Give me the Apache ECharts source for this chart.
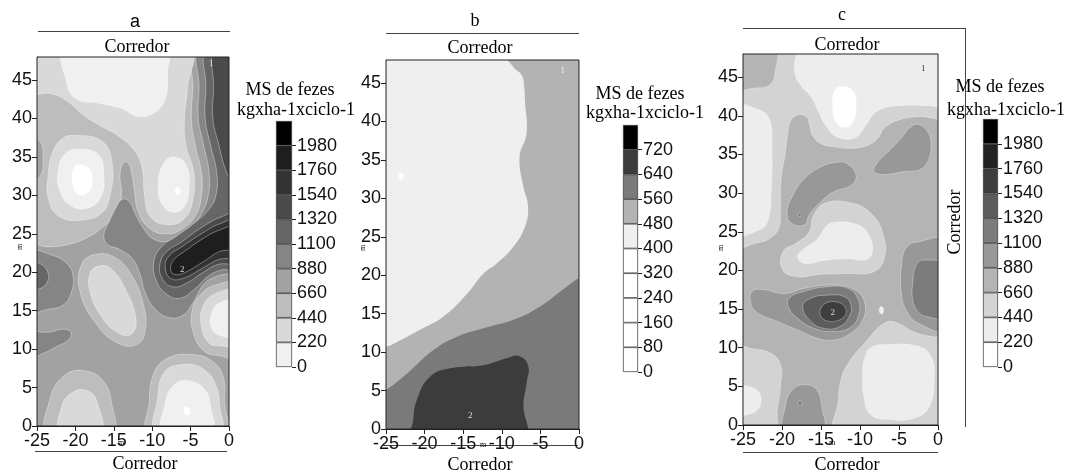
<!DOCTYPE html>
<html><head><meta charset="utf-8">
<script src="https://cdn.jsdelivr.net/npm/echarts@6/dist/echarts.min.js"></script>
<style>html,body{margin:0;padding:0;background:#fff}#c{width:1068px;height:475px}</style>
</head><body><div id="c"></div>
<script>
// ---------- data ----------
const xTicks = [-25, -20, -15, -10, -5, 0];
const yTicks = [0, 5, 10, 15, 20, 25, 30, 35, 40, 45];
const aBreaks = [0, 220, 440, 660, 880, 1100, 1320, 1540, 1760, 1980, 2200];
const bBreaks = [0, 80, 160, 240, 320, 400, 480, 560, 640, 720, 800];
const cBreaks = [0, 220, 440, 660, 880, 1100, 1320, 1540, 1760, 1980, 2200];

// contour regions: [level (kg/ha), outline in metres]; drawn in order
const aContours = [
  [440, [[-26,-1],[1,-1],[1,49],[-26,49]]],
  [660, [[-26,-1],[1,-1],[1,49],[-4.6,49],[-4.7,44],[-4.9,40],[-4.4,36.5],[-3.6,33],[-3.6,30],[-4.3,27.5],[-6,25.7],[-8,25.0],[-10.2,25.6],[-11.8,27.8],[-12.3,30.5],[-12.6,32.5],[-13.1,34.2],[-13.8,34.2],[-14.2,32.5],[-14,30.5],[-14.5,28],[-16.3,26],[-18.5,24.5],[-21,23.6],[-23.5,23.3],[-26,23.3]]],
  [660, [[-26,37.5],[-24.6,37],[-24.2,34.8],[-24.6,32.5],[-26,32]]],
  [880, [[1,49],[-3.8,49],[-3.9,44],[-4.0,40],[-3.3,36.5],[-2.6,33],[-2.7,30],[-3.6,27.6],[-5.3,25.5],[-7.8,24.1],[-9.8,24.3],[-11.2,25.8],[-12.2,27.6],[-13,29.2],[-13.9,29.5],[-14.7,28.4],[-15.6,26.6],[-16.3,24.8],[-15.8,23.6],[-14.3,23],[-12.6,21.8],[-11.6,19.8],[-10.9,17.3],[-9.6,15.2],[-7.8,14.1],[-6,14.4],[-4.6,16.2],[-3.3,18.4],[-1.8,19.4],[0,19.8],[1,19.8]]],
  [880, [[-26,22.5],[-23,22.2],[-21,21],[-20.3,19.5],[-20.5,17.5],[-21.5,15.8],[-23.5,15.2],[-26,15]]],
  [880, [[-26,8.8],[-24.5,9.3],[-22.5,10.3],[-20.8,11.3],[-20.6,12.2],[-21.5,12.6],[-23.5,12.2],[-25,12.3],[-26,12.5]]],
  [1100, [[1,49],[-2.9,49],[-3,44],[-3.1,40],[-2.4,36.5],[-1.6,33],[-1.7,30],[-2.6,28.2],[-4.4,26.5],[-6.8,24.7],[-8.8,23.3],[-9.8,21.3],[-9.5,19],[-8.3,17.3],[-6.5,16.6],[-4.5,17.8],[-2.7,19.5],[-1,20.3],[1,20.6]]],
  [1100, [[-26,21.3],[-24.4,21],[-23.5,19.7],[-23.8,18.5],[-24.8,17.8],[-26,17.7]]],
  [1320, [[1,49],[-1.9,49],[-2,44],[-2.1,40],[-1.3,36.5],[-0.5,33.5],[0.3,32],[1,31.5]]],
  [1320, [[1,27.6],[-1,27.2],[-3.6,25.8],[-6.1,24],[-8.2,22.6],[-9,21],[-8.7,19.2],[-7.3,18.1],[-5.5,18.6],[-3.5,19.9],[-1.5,21],[1,21.5]]],
  [1540, [[1,26.7],[-1.2,26.3],[-3.6,25],[-6,23.4],[-7.9,22],[-8.3,20.6],[-7.6,19.2],[-6,19.2],[-3.5,20.5],[-1.5,21.6],[1,22.3]]],
  [1760, [[1,25.9],[-1.2,25.5],[-3.5,24.3],[-5.8,22.7],[-7.2,21.6],[-7.6,20.3],[-7,19.7],[-5.7,20],[-3.3,21.4],[-1.2,22.7],[1,23.2]]],
  [440, [[-17.5,22.3],[-15,22],[-12.8,19.8],[-11.2,16],[-10.9,12.5],[-12,10.6],[-14.5,10.8],[-17.3,13.3],[-19.4,17.5],[-19.2,21]]],
  [440, [[1,18.5],[-1.5,18.4],[-3.5,17.3],[-4.8,15],[-4.6,12],[-3.3,9.8],[-1.5,9.2],[1,9.2]]],
  [440, [[-10.4,-1],[-10.4,3],[-9.8,6.8],[-8,8.8],[-5,9.3],[-2.3,8.5],[-0.8,6.5],[-0.6,3],[-0.5,-1]]],
  [440, [[-23.5,-1],[-23.3,3.5],[-21.5,6.5],[-19,7.2],[-16.5,6],[-15.3,3],[-15.3,-1]]],
  [220, [[-26,49],[-5.3,49],[-5.4,44],[-5.8,40],[-5.6,36.5],[-4.6,33],[-4.7,29.5],[-5.8,27],[-8,26.2],[-10.2,27.2],[-11,30],[-11.3,33.5],[-12.3,35.8],[-14.5,37.8],[-17,39.2],[-19,40.5],[-21,42.2],[-23,43.2],[-26,43.5]]],
  [220, [[-20,37.8],[-16.5,37],[-15.2,34],[-15.5,30],[-16.5,27.8],[-19,26.8],[-22,27.2],[-23.5,29.5],[-23.5,33],[-23,35.5],[-21.8,37.3]]],
  [220, [[-17,20.8],[-15.4,20.5],[-13.5,17.8],[-12.1,13.8],[-12.8,11.9],[-14.6,12.2],[-16.8,14.5],[-18.1,17.5],[-18.1,19.8]]],
  [220, [[1,17.4],[-1.8,17.2],[-3.4,15.5],[-3.6,13],[-2.6,10.8],[-0.8,10.4],[1,10.4]]],
  [220, [[-9.4,-1],[-9.3,3.5],[-8.4,7],[-6,8],[-3.5,7.5],[-1.8,5.5],[-1.2,2.5],[-1.2,-1]]],
  [220, [[-21.9,-1],[-21.8,2.5],[-20.5,4.3],[-18.5,4.6],[-17.2,3.2],[-16.8,-1]]],
  [0, [[-21.2,49],[-8.2,49],[-8,46],[-8.4,42.3],[-10,40.6],[-12,40.3],[-14,41.3],[-17,42],[-19.8,42.5],[-21.1,44.5]]],
  [0, [[-7.3,35],[-5.6,34],[-5.2,31],[-5.8,28.6],[-7.3,27.8],[-8.8,29],[-9.2,31.5],[-8.6,34]]],
  [0, [[-19.5,36],[-17,35.3],[-16.3,32.5],[-16.6,30],[-18,28.5],[-20.3,28.5],[-22,30.5],[-22.2,33.5],[-21.2,35.5]]],
  [0, [[1,16.2],[-1.3,16],[-2.3,14.5],[-2.3,12.8],[-1.2,11.8],[1,11.8]]],
  [0, [[-8.5,-1],[-8.3,3],[-7.2,5.3],[-5.3,5.9],[-3.2,4.8],[-2.4,2.5],[-2.3,-1]]],
  [-1, [[-19.5,34],[-18.2,33.5],[-17.8,31.5],[-18.6,30.2],[-19.8,30.3],[-20.4,32],[-20.2,33.6]]],
  [-1, [[-6.9,31],[-6.4,30.9],[-6.4,30.3],[-6.9,30.2]]],
  [-1, [[-5.8,2.4],[-5.2,2.3],[-5.1,1.6],[-5.7,1.5]]]
];

const bContours = [
  [400, [[-26,-1],[1,-1],[1,49],[-26,49]]],
  [480, [[-9.6,49],[-8.5,47.1],[-7.4,46.0],[-7.1,44.5],[-7.0,42.7],[-6.8,38.4],[-7.7,35.4],[-7.2,31.5],[-6.6,28.9],[-7.0,26.3],[-8.5,23.7],[-10.7,21.5],[-12.4,20.2],[-14.5,17.6],[-17.6,14.6],[-20.6,12.9],[-23.6,11.3],[-25,10.7],[-26,10.6],[-26,-1],[1,-1],[1,49]]],
  [560, [[-26,4.8],[-25,5.1],[-22.3,7.2],[-18.8,10.3],[-15.8,12.0],[-12.4,13.1],[-8.5,14.2],[-5.1,15.9],[-1.6,18.5],[0,19.6],[1,19.8],[1,-1],[-26,-1]]],
  [640, [[-21.6,-1],[-21.5,1],[-21,3.8],[-19.3,6.8],[-16.7,7.9],[-12.4,8.3],[-9.4,9.2],[-7.8,9.5],[-6.6,8.3],[-6.8,5.9],[-7.2,3.3],[-7.2,-1]]],
  [320, [[-23.3,33.3],[-22.8,33.2],[-22.8,32.6],[-23.3,32.5]]]
];

const cContours = [
  [660, [[-26,-1],[1,-1],[1,49],[-26,49]]],
  [440, [[-26,49],[1,49],[1,40.1],[-2.6,39.9],[-5.2,39.4],[-6.9,38.4],[-7.7,37.1],[-9,36.2],[-11.15,35.8],[-13.3,36.0],[-15,36.4],[-16.1,37.5],[-16.5,39.0],[-16.9,39.9],[-18,40.1],[-18.9,39.3],[-19.3,37.5],[-19.6,35],[-20.1,32],[-20.2,28],[-20.4,25.5],[-21.5,24.2],[-23,23.6],[-26,23.4]]],
  [660, [[-26,49],[-21,49],[-20.9,45.5],[-21.6,44],[-23.5,43.6],[-26,43.6]]],
  [220, [[-17.6,49],[-18.3,47.3],[-18.3,45.3],[-17.5,43.8],[-16.3,42.5],[-15.3,40.5],[-14.3,38.6],[-12.8,37.2],[-10.6,37.2],[-9.3,38.7],[-7.8,40.6],[-5,41.3],[-1,41.3],[1,41.3],[1,49]]],
  [0, [[-12.4,43.8],[-10.9,43.2],[-10.5,41],[-11,39],[-12,38.5],[-13.1,39.2],[-13.5,41.2],[-13.3,43.2]]],
  [220, [[-26,41],[-23,40.8],[-21.6,39.5],[-21.3,36],[-21.4,30],[-21.8,26.5],[-23,25.2],[-26,24.9]]],
  [880, [[-11.6,33.8],[-10.5,32.3],[-11.15,31.0],[-13.3,30.2],[-15.0,28.9],[-16.5,27.2],[-17.1,25.9],[-18.8,26.1],[-19.35,27.6],[-18.6,29.75],[-17.1,31.9],[-15.0,33.4],[-12.9,34.0]]],
  [1100, [[-17.9,27.4],[-17.6,27.3],[-17.6,27.0],[-17.9,27.0]]],
  [880, [[-2.6,38.9],[-1.3,37.9],[-0.9,36.2],[-1.3,34.1],[-2.4,33.0],[-4.3,32.8],[-6.9,32.4],[-8.2,32.8],[-7.9,33.8],[-6.45,35.3],[-4.74,37.1],[-3.7,38.4]]],
  [440, [[-14.5,28.7],[-11,28.7],[-8.5,27.3],[-7,24.5],[-6.9,21.5],[-8.3,19.8],[-11.5,19.6],[-15,19.5],[-18.3,19.2],[-20,20.2],[-19.8,22.5],[-18.2,23.5],[-16.5,25],[-16,27]]],
  [220, [[-13.5,26.2],[-10.6,26],[-9,24.8],[-8.4,22.5],[-9.2,21.4],[-11.6,21.5],[-14.5,21.3],[-17,20.9],[-18,21.7],[-17.2,22.8],[-15.5,24],[-14.5,25.5]]],
  [880, [[-23.8,17.3],[-22.3,17.5],[-19.7,17.0],[-17.1,17.7],[-13.3,18.1],[-10.7,17.5],[-9.4,15.8],[-9.65,13.6],[-11.15,11.9],[-13.3,11.0],[-15.4,11.2],[-18.0,12.3],[-20.6,13.4],[-23.1,14.5],[-24.0,15.8]]],
  [1100, [[-19.1,16.4],[-17.1,17.3],[-14.1,17.9],[-11.6,17.7],[-10.3,16.4],[-10.1,14.5],[-11.15,12.7],[-13.3,12.1],[-15.9,12.5],[-18.0,13.8],[-19.1,15.1]]],
  [1320, [[-17.35,15.3],[-16.3,16.4],[-14.1,16.8],[-12.0,16.6],[-11.15,15.5],[-11.4,14.0],[-12.65,12.7],[-14.6,12.5],[-16.3,13.4]]],
  [1540, [[-15.0,15.1],[-14.35,15.8],[-12.9,15.9],[-11.9,15.2],[-11.9,14.2],[-12.9,13.5],[-14.35,13.5],[-15.1,14.25]]],
  [880, [[1,23.7],[-2.6,23.7],[-4.1,22.9],[-4.7,20.5],[-4.7,17.05],[-4.1,14.9],[-2.6,13.2],[1,12.5]]],
  [1100, [[1,20.5],[-1.75,21.35],[-2.8,20.7],[-3.25,18.3],[-3.25,16.2],[-2.6,14.7],[-1.3,14.0],[1,14.0]]],
  [440, [[-13,-1],[-12.8,3],[-12.4,6],[-11.3,8.3],[-9.4,10.6],[-7,13.1],[-5.5,13.3],[-3,12],[-0.5,11.4],[1,11.3],[1,-1]]],
  [220, [[-8.6,10.0],[-6.45,10.4],[-2.6,10.2],[-0.9,8.9],[-0.5,5.85],[-1.1,2.4],[-3.03,0.9],[-6.0,0.68],[-8.6,1.33],[-9.5,3.7],[-9.65,6.7],[-9.4,8.65]]],
  [440, [[-26,10.2],[-24,9.9],[-21.5,9.3],[-20.2,7.8],[-20.2,5],[-20.6,2],[-21,-1],[-26,-1]]],
  [220, [[-26,5.1],[-24.5,5.0],[-23.2,4.5],[-22.7,3.3],[-23.1,2.0],[-24.3,1.4],[-26,1.3]]],
  [880, [[-17.1,5.2],[-15.6,4.6],[-14.9,2.4],[-14.8,-1],[-19.6,-1],[-19.5,2.8],[-18.6,4.6]]],
  [1100, [[-17.9,3.0],[-17.5,3.0],[-17.5,2.6],[-17.9,2.6]]],
  [220, [[-7.4,15.3],[-7.0,15.1],[-7.1,14.4],[-7.5,14.6]]]
];

// point labels inside the maps: [x, y, text]
const aMarks = [[-2.3, 47.1, '1'], [-6.1, 20.4, '2']];
const bMarks = [[-2.1, 46.6, '1'], [-14.1, 1.8, '2']];
const cMarks = [[-1.9, 46.1, '1'], [-13.5, 14.5, '2']];

const legendTitle = ['MS de fezes', 'kgxha-1xciclo-1'];
const panelTitles = ['a', 'b', 'c'];
const sideLabel = 'Corredor';

// ---------- styles ----------
const A_COLORS = ['#f0f0f0','#d9d9d9','#bdbdbd','#a2a2a2','#858585','#666666','#4a4a4a','#333333','#1e1e1e','#000000'];
const B_COLORS = ['#ffffff','#ffffff','#ffffff','#ffffff','#ffffff','#efefef','#b3b3b3','#7a7a7a','#3c3c3c','#000000'];
const C_COLORS = ['#ffffff','#ededed','#d3d3d3','#b4b4b4','#989898','#7c7c7c','#5c5c5c','#3e3e3e','#222222','#000000'];
const SANS = '"Liberation Sans", Arial, sans-serif';
const SERIF = '"Liberation Serif", "Times New Roman", serif';
const TICK_FONT = 18;

const plotGrids = [
  {left: 37, top: 57, width: 192, height: 369},
  {left: 386, top: 60, width: 193, height: 369},
  {left: 743, top: 54, width: 195, height: 371}
];
const barGrids = [
  {left: 276, top: 121, width: 16, height: 246},
  {left: 623, top: 125, width: 15, height: 247},
  {left: 983, top: 119, width: 15, height: 248}
];

function bandColor(level, breaks, colors) {
  if (level < breaks[0]) return '#ffffff';
  for (let i = 0; i < breaks.length - 1; i++) {
    if (level >= breaks[i] && level < breaks[i + 1]) return colors[i];
  }
  return colors[colors.length - 1];
}

const panels = [
  {contours: aContours, breaks: aBreaks, colors: A_COLORS, marks: aMarks, stroke: 'rgba(255,255,255,0.5)', markColors: ['#fff', '#fff']},
  {contours: bContours, breaks: bBreaks, colors: B_COLORS, marks: bMarks, stroke: null, markColors: ['#fff', '#fff']},
  {contours: cContours, breaks: cBreaks, colors: C_COLORS, marks: cMarks, stroke: 'rgba(255,255,255,0.45)', markColors: ['#000', '#fff']}
];

const grid = [], xAxis = [], yAxis = [], series = [];

panels.forEach((p, k) => {
  grid.push(Object.assign({show: true, borderColor: '#222', borderWidth: 1, backgroundColor: 'transparent', z: 10}, plotGrids[k]));
  xAxis.push({
    gridIndex: k, type: 'value', min: -25, max: 0, interval: 5,
    axisLine: {show: true, onZero: false, lineStyle: {color: '#222', width: 1}},
    axisTick: {show: true, length: 5, lineStyle: {color: '#222'}, customValues: xTicks},
    axisLabel: {fontSize: TICK_FONT, color: '#111', fontFamily: SANS, margin: 6, customValues: xTicks, formatter: v => String(v)},
    splitLine: {show: false}
  });
  yAxis.push({
    gridIndex: k, type: 'value', min: 0, max: 48, interval: 5,
    axisLine: {show: true, onZero: false, lineStyle: {color: '#222', width: 1}},
    axisTick: {show: true, length: 5, lineStyle: {color: '#222'}, customValues: yTicks},
    axisLabel: {fontSize: TICK_FONT, color: '#111', fontFamily: SANS, margin: 5, customValues: yTicks, formatter: v => String(v)},
    splitLine: {show: false}
  });
  const contours = p.contours;
  series.push({
    type: 'custom', xAxisIndex: k, yAxisIndex: k, z: 2, silent: true,
    data: contours.map((c, i) => [i, c[0]]),
    renderItem: (params, api) => {
      const c = contours[params.dataIndex];
      const pts = c[1].map(q => api.coord(q));
      const cs = params.coordSys;
      const isBase = params.dataIndex === 0;
      return {
        type: 'polygon',
        shape: {points: pts, smooth: isBase ? 0 : 0.45},
        style: {
          fill: bandColor(c[0], p.breaks, p.colors),
          stroke: (isBase || !p.stroke) ? null : p.stroke,
          lineWidth: 0.7
        },
        clipPath: {type: 'rect', shape: {x: cs.x, y: cs.y, width: cs.width, height: cs.height}}
      };
    }
  });
  series.push({
    type: 'scatter', xAxisIndex: k, yAxisIndex: k, z: 5, silent: true,
    symbolSize: 0,
    data: p.marks.map((m, i) => ({value: [m[0], m[1]], name: m[2], label: {color: p.markColors[i]}})),
    label: {show: true, position: 'inside', formatter: d => d.name, fontSize: 9, fontFamily: SERIF}
  });
});

// colour bars
panels.forEach((p, k) => {
  const gi = 3 + k;
  grid.push(Object.assign({show: false}, barGrids[k]));
  xAxis.push({gridIndex: gi, type: 'category', data: ['v'], show: false, boundaryGap: true});
  const labVals = p.breaks.slice(0, -1);
  yAxis.push({
    gridIndex: gi, type: 'value', position: 'right',
    min: p.breaks[0], max: p.breaks[p.breaks.length - 1], interval: p.breaks[1] - p.breaks[0],
    axisLine: {show: false},
    axisTick: {show: true, inside: false, length: 4, lineStyle: {color: '#222'}, customValues: labVals},
    axisLabel: {fontSize: TICK_FONT, color: '#111', fontFamily: SANS, margin: 5, customValues: labVals, formatter: v => String(v)},
    splitLine: {show: false}
  });
  for (let i = 0; i < p.breaks.length - 1; i++) {
    series.push({
      type: 'bar', xAxisIndex: gi, yAxisIndex: gi, stack: 'cb' + k, silent: true,
      barWidth: '100%',
      data: [p.breaks[i + 1] - p.breaks[i]],
      itemStyle: {color: p.colors[i], borderColor: '#333', borderWidth: 0.7}
    });
  }
});

// ---------- text and frame lines ----------
function txt(text, x, y, font, extra) {
  return Object.assign({
    type: 'text', x: x, y: y, silent: true,
    style: {text: text, font: font, fill: '#000', align: 'center', verticalAlign: 'middle', textAlign: 'center', textVerticalAlign: 'middle'}
  }, extra || {});
}
function ln(x1, y1, x2, y2) {
  return {type: 'line', silent: true, shape: {x1, y1, x2, y2}, style: {stroke: '#444', lineWidth: 1}};
}
const graphic = [
  txt(panelTitles[0], 135, 22, '18px ' + SANS),
  txt(panelTitles[1], 475, 21, '18px ' + SERIF),
  txt(panelTitles[2], 842, 15, '18px ' + SERIF),
  ln(38, 31.5, 230, 31.5), ln(35, 451.5, 227, 451.5),
  ln(386, 33.5, 579, 33.5), ln(383, 445.5, 578, 445.5),
  ln(743, 28.5, 965, 28.5), ln(965.5, 28, 965.5, 427), ln(743, 452.5, 938, 452.5),
  txt(sideLabel, 137, 47, '18px ' + SERIF), txt(sideLabel, 145, 464, '18px ' + SERIF),
  txt(sideLabel, 480, 48, '18px ' + SERIF), txt(sideLabel, 480, 465, '18px ' + SERIF),
  txt(sideLabel, 847, 45, '18px ' + SERIF), txt(sideLabel, 847, 465, '18px ' + SERIF),
  txt(sideLabel, 955, 222, '18px ' + SERIF, {rotation: Math.PI / 2}),
  txt(legendTitle[0], 290, 90, '18px ' + SERIF), txt(legendTitle[1], 296, 110, '18px ' + SERIF),
  txt(legendTitle[0], 640, 94, '18px ' + SERIF), txt(legendTitle[1], 645, 113, '18px ' + SERIF),
  txt(legendTitle[0], 1000, 87, '18px ' + SERIF), txt(legendTitle[1], 1006, 110, '18px ' + SERIF),
  txt('m', 121, 443, '8px ' + SERIF), txt('m', 483, 445, '8px ' + SERIF), txt('m', 832, 443, '8px ' + SERIF),
  txt('m', 20, 247, '8px ' + SERIF, {rotation: Math.PI / 2}),
  txt('m', 363, 248, '8px ' + SERIF, {rotation: Math.PI / 2}),
  txt('m', 721, 248, '8px ' + SERIF, {rotation: Math.PI / 2})
];

const chart = echarts.init(document.getElementById('c'), null, {renderer: 'canvas'});
chart.setOption({animation: false, backgroundColor: '#fff', grid, xAxis, yAxis, series, graphic});
</script>
</body></html>
